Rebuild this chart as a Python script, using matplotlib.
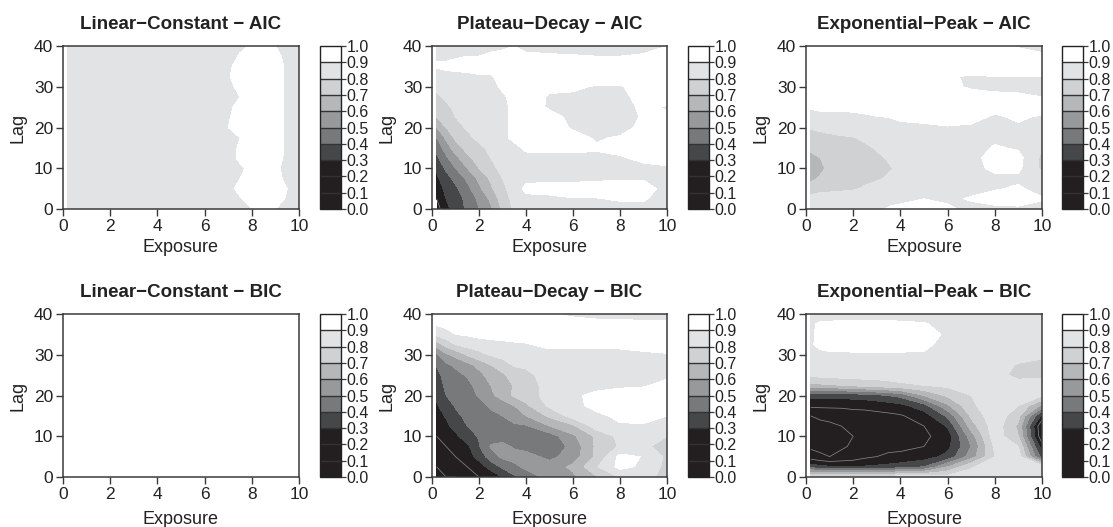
import numpy as np
import matplotlib
matplotlib.use("Agg")
import matplotlib.pyplot as plt
from matplotlib.colors import ListedColormap, BoundaryNorm

plt.rcParams['font.family'] = ['Liberation Sans', 'DejaVu Sans']

lags = [0, 2.5, 5, 7.5, 10, 12.5, 15, 17.5, 20, 22.5, 25, 27.5, 30, 32.5, 35, 37.5, 40]
x_fine = [0.2, 0.6, 1, 1.5, 2, 2.5, 3, 3.5, 4, 5, 6, 7, 8, 9, 10]
x_lin = [0.2, 1, 2, 3, 4, 5, 6, 7, 7.5, 8, 8.5, 9, 9.5, 10]
levels = [0, .1, .2, .3, .4, .5, .6, .7, .8, .9, 1.0]
tick_labels = ['0.0', '0.1', '0.2', '0.3', '0.4', '0.5', '0.6', '0.7', '0.8', '0.9', '1.0']
band_colors = ['#231f20', '#231f20', '#231f20', '#454749', '#77797b', '#97999b',
               '#b5b7b9', '#cfd1d3', '#e2e3e5', '#ffffff']

linear_aic = [
    [.85]*7 + [.85, .87, .90, .95, .90, .86, .85],
    [.85]*7 + [.86, .89, .94, .95, .94, .89, .85],
    [.85]*7 + [.87, .93, .95, .95, .95, .90, .85],
    [.85]*7 + [.85, .90, .94, .95, .94, .87, .85],
    [.85]*7 + [.85, .88, .93, .95, .92, .87, .85],
    [.85]*7 + [.86, .92, .95, .95, .95, .87, .85],
    [.85]*7 + [.87, .91, .95, .95, .95, .88, .85],
    [.85]*7 + [.87, .90, .95, .95, .95, .88, .85],
    [.85]*7 + [.90, .95, .95, .95, .95, .88, .85],
    [.85]*7 + [.89, .94, .95, .95, .95, .88, .85],
    [.85]*7 + [.88, .93, .95, .95, .95, .88, .85],
    [.85]*7 + [.86, .90, .95, .95, .95, .88, .85],
    [.85]*7 + [.87, .93, .95, .95, .95, .88, .85],
    [.85]*7 + [.89, .95, .95, .95, .95, .88, .85],
    [.85]*7 + [.88, .94, .95, .95, .95, .88, .85],
    [.85]*7 + [.86, .91, .95, .95, .93, .87, .85],
    [.85]*7 + [.85, .88, .91, .93, .90, .86, .85],
]

plateau_aic = [
    [.15, .28, .33, .42, .50, .58, .72, .82, .85, .86, .87, .87, .87, .87, .87],
    [.20, .30, .35, .43, .52, .62, .75, .83, .87, .87, .895, .895, .91, .91, .86],
    [.24, .33, .38, .47, .58, .68, .78, .84, .93, .95, .95, .95, .95, .95, .86],
    [.28, .36, .43, .52, .62, .72, .80, .85, .87, .87, .87, .88, .89, .89, .87],
    [.32, .42, .50, .60, .70, .77, .83, .86, .87, .87, .87, .87, .87, .88, .89],
    [.38, .48, .57, .67, .75, .80, .84, .86, .87, .87, .88, .88, .89, .92, .93],
    [.43, .55, .65, .74, .78, .82, .85, .87, .92, .93, .92, .91, .93, .94, .94],
    [.50, .62, .72, .78, .82, .84, .87, .93, .94, .94, .93, .89, .91, .94, .94],
    [.60, .70, .77, .81, .83, .85, .87, .93, .95, .94, .89, .87, .86, .93, .93],
    [.70, .75, .80, .83, .85, .86, .87, .93, .94, .93, .88, .87, .86, .91, .92],
    [.74, .78, .82, .84, .85, .86, .87, .93, .94, .89, .87, .86, .86, .92, .89],
    [.78, .82, .84, .85, .86, .87, .89, .92, .95, .89, .88, .87, .87, .94, .95],
    [.82, .84, .85, .86, .87, .88, .91, .95, .96, .92, .92, .89, .89, .95, .96],
    [.85, .87, .87, .88, .89, .89, .93, .96, .97, .96, .96, .96, .96, .96, .96],
    [.91, .92, .93, .93, .94, .94, .95, .96, .96, .96, .96, .96, .96, .96, .96],
    [.89, .88, .89, .90, .90, .92, .93, .93, .92, .91, .905, .90, .90, .91, .93],
    [.85, .85, .86, .86, .87, .87, .88, .90, .87, .87, .87, .87, .87, .87, .90],
]

exponential_aic = [
    [.85, .85, .85, .85, .85, .85, .87, .91, .93, .95, .92, .87, .87, .88, .86],
    [.84, .86, .86, .86, .86, .87, .87, .87, .87, .90, .88, .91, .95, .95, .91],
    [.74, .76, .77, .78, .79, .81, .83, .84, .85, .86, .86, .87, .89, .915, .86],
    [.68, .71, .74, .76, .77, .78, .79, .81, .83, .85, .85, .86, .88, .88, .85],
    [.65, .68, .72, .75, .76, .76, .77, .79, .82, .84, .85, .87, .92, .92, .78],
    [.67, .70, .74, .75, .76, .76, .78, .81, .83, .85, .85, .86, .95, .93, .78],
    [.72, .73, .75, .76, .77, .78, .81, .83, .84, .85, .85, .86, .91, .89, .80],
    [.76, .77, .78, .79, .795, .82, .83, .84, .85, .86, .86, .87, .88, .87, .85],
    [.81, .82, .83, .84, .85, .86, .86, .86, .87, .88, .895, .89, .89, .89, .89],
    [.86, .87, .87, .87, .87, .88, .895, .90, .92, .93, .93, .92, .89, .91, .89],
    [.91, .92, .92, .92, .93, .94, .95, .95, .96, .96, .96, .96, .92, .95, .93],
    [.96, .96, .96, .96, .96, .96, .96, .96, .96, .96, .95, .93, .92, .92, .90],
    [.96, .96, .96, .96, .96, .96, .96, .96, .96, .96, .92, .89, .88, .87, .87],
    [.96, .96, .96, .96, .96, .96, .96, .96, .96, .96, .91, .89, .90, .90, .90],
    [.96, .96, .96, .96, .96, .96, .96, .96, .96, .96, .96, .96, .96, .96, .96],
    [.96, .96, .96, .96, .96, .96, .96, .96, .96, .96, .96, .96, .96, .95, .93],
    [.96, .96, .96, .96, .96, .96, .96, .96, .96, .96, .96, .96, .94, .89, .85],
]

linear_bic = [[.95, .95], [.95, .95]]
linear_bic_x = [0.2, 10]
linear_bic_lag = [0, 40]

plateau_bic = [
    [.08, .10, .10, .15, .20, .25, .30, .38, .45, .53, .58, .69, .81, .81, .79],
    [.10, .12, .15, .20, .26, .33, .42, .48, .52, .55, .62, .79, .93, .88, .77],
    [.13, .16, .20, .26, .33, .46, .52, .53, .54, .47, .55, .72, .93, .895, .78],
    [.17, .20, .24, .28, .39, .51, .52, .49, .46, .43, .53, .72, .81, .82, .76],
    [.20, .24, .28, .35, .41, .46, .47, .46, .44, .45, .58, .72, .83, .85, .80],
    [.24, .28, .33, .40, .43, .45, .46, .48, .49, .60, .68, .85, .89, .89, .87],
    [.26, .31, .38, .42, .44, .47, .50, .56, .60, .72, .84, .88, .92, .93, .90],
    [.29, .35, .41, .43, .46, .52, .55, .60, .68, .82, .87, .93, .95, .95, .94],
    [.32, .40, .43, .45, .51, .58, .64, .72, .75, .84, .88, .93, .95, .95, .95],
    [.35, .42, .44, .47, .54, .60, .64, .71, .75, .84, .86, .86, .88, .89, .93],
    [.37, .44, .47, .51, .57, .64, .68, .75, .77, .85, .86, .86, .86, .86, .88],
    [.41, .48, .52, .57, .63, .70, .76, .81, .82, .85, .85, .85, .85, .85, .85],
    [.48, .58, .63, .71, .77, .81, .83, .84, .85, .86, .86, .86, .86, .88, .89],
    [.65, .74, .80, .84, .85, .86, .87, .88, .89, .93, .93, .93, .93, .94, .96],
    [.82, .86, .90, .91, .93, .94, .95, .96, .96, .96, .96, .96, .96, .96, .96],
    [.91, .93, .95, .96, .96, .96, .96, .96, .96, .96, .95, .93, .93, .92, .92],
    [.97, .97, .97, .97, .97, .97, .96, .96, .95, .91, .88, .87, .87, .86, .86],
]

exponential_bic = [
    [.84, .85, .85, .85, .85, .85, .85, .85, .85, .85, .84, .84, .85, .87, .87],
    [.35, .33, .31, .31, .31, .31, .32, .33, .35, .40, .60, .79, .85, .86, .86],
    [.15, .12, .10, .12, .14, .18, .20, .22, .22, .25, .33, .55, .80, .85, .36],
    [.08, .07, .07, .09, .11, .14, .16, .17, .18, .20, .27, .50, .82, .80, .24],
    [.07, .06, .06, .08, .10, .12, .14, .15, .16, .18, .25, .55, .86, .70, .12],
    [.07, .07, .08, .10, .12, .14, .15, .16, .17, .20, .31, .65, .86, .68, .10],
    [.10, .12, .13, .14, .15, .16, .17, .18, .19, .25, .42, .72, .87, .73, .27],
    [.22, .22, .22, .22, .23, .23, .24, .25, .27, .36, .58, .78, .87, .80, .58],
    [.33, .33, .33, .33, .34, .35, .37, .40, .43, .60, .72, .80, .87, .84, .81],
    [.67, .68, .69, .70, .72, .74, .75, .77, .78, .80, .82, .84, .86, .86, .85],
    [.82, .83, .84, .84, .84, .84, .84, .84, .85, .85, .85, .85, .85, .76, .78],
    [.85, .85, .85, .85, .85, .85, .85, .85, .85, .85, .85, .85, .85, .79, .76],
    [.87, .88, .89, .89, .89, .89, .89, .89, .89, .89, .87, .86, .86, .85, .83],
    [.89, .92, .92, .92, .93, .93, .93, .93, .93, .92, .87, .85, .85, .85, .85],
    [.88, .93, .95, .95, .95, .95, .95, .95, .95, .95, .88, .85, .85, .85, .85],
    [.88, .92, .92, .93, .93, .93, .93, .93, .92, .91, .86, .85, .85, .85, .85],
    [.85, .85, .85, .85, .85, .85, .85, .85, .85, .85, .85, .85, .85, .85, .84],
]

panels = [
    ('Linear\u2212Constant \u2212 AIC', x_lin, lags, linear_aic),
    ('Plateau\u2212Decay \u2212 AIC', x_fine, lags, plateau_aic),
    ('Exponential\u2212Peak \u2212 AIC', x_fine, lags, exponential_aic),
    ('Linear\u2212Constant \u2212 BIC', linear_bic_x, linear_bic_lag, linear_bic),
    ('Plateau\u2212Decay \u2212 BIC', x_fine, lags, plateau_bic),
    ('Exponential\u2212Peak \u2212 BIC', x_fine, lags, exponential_bic),
]

W, H = 1113, 527
fig = plt.figure(figsize=(W / 100, H / 100), dpi=100)


def box(x0, x1, y0, y1):
    return [x0 / W, 1 - y1 / H, (x1 - x0) / W, (y1 - y0) / H]


col_px = [(63, 299, 320, 341), (432, 667, 688, 709), (806, 1042, 1062, 1083)]
row_px = [(46, 209, 39), (314, 477, 42)]
cmap = ListedColormap(band_colors)
norm = BoundaryNorm(levels, cmap.N)
edge = '#3a3a3a'

for i, (title, xs, ys, z) in enumerate(panels):
    r, c = divmod(i, 3)
    ax0, ax1, cb0, cb1 = col_px[c]
    top, bot, lab = row_px[r]
    ax = fig.add_axes(box(ax0, ax1, top, bot))
    cf = ax.contourf(xs, ys, np.array(z), levels=levels, cmap=cmap, norm=norm)
    if len(xs) > 2:
        ax.contour(xs, ys, np.array(z), levels=[.1, .2], colors='#8c8c8c', linewidths=.5)
    ax.set_xlim(0, 10)
    ax.set_ylim(0, 40)
    ax.set_xticks([0, 2, 4, 6, 8, 10])
    ax.set_yticks([0, 10, 20, 30, 40])
    ax.tick_params(labelsize=12.5, length=5, width=1, color=edge, pad=2, labelcolor='#222222')
    for s in ax.spines.values():
        s.set_color(edge)
        s.set_linewidth(1.1)
    ax.set_xlabel('Exposure', fontsize=13, color='#222222')
    ax.xaxis.set_label_coords(.5, -lab / (bot - top), transform=ax.transAxes)
    ax.xaxis.label.set_va('center')
    ax.set_ylabel('Lag', fontsize=13, color='#222222', labelpad=5)
    ax.set_title(title, fontsize=13.5, fontweight='bold', color='#222222', pad=12)

    cax = fig.add_axes(box(cb0, cb1, top, bot))
    cb = fig.colorbar(cf, cax=cax, ticks=levels, drawedges=True, spacing='proportional')
    cb.ax.set_yticklabels(tick_labels)
    cb.ax.tick_params(labelsize=11.5, length=3.5, width=.9, color=edge, pad=0.5, labelcolor='#222222')
    cb.outline.set_edgecolor('#222222')
    cb.outline.set_linewidth(1)
    segs = [s for s in cb.dividers.get_segments() if s[0][1] > .25]
    cb.dividers.set_segments(segs)
    cb.dividers.set_color('#333333')
    cb.dividers.set_linewidth(1)

fig.savefig('out.png', dpi=100)
